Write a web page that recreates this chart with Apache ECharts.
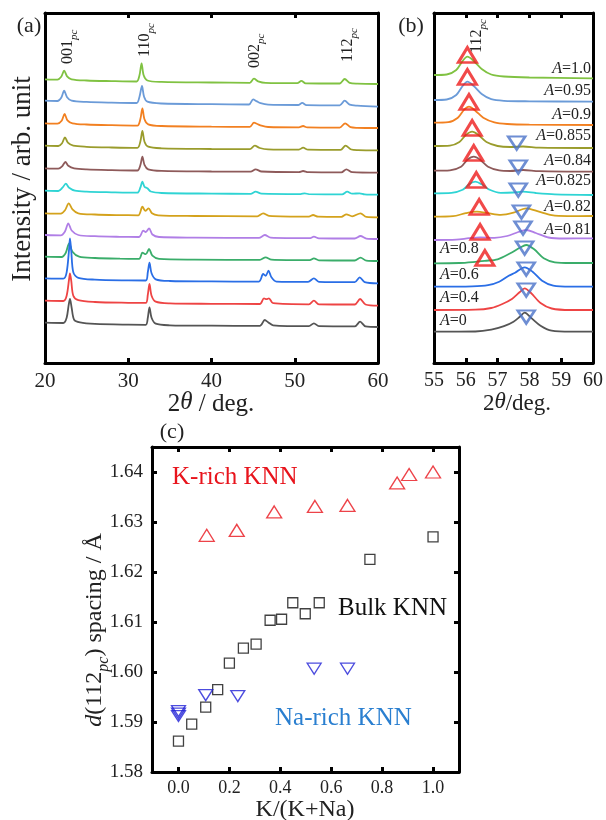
<!DOCTYPE html>
<html>
<head>
<meta charset="utf-8">
<script src="https://cdn.jsdelivr.net/npm/echarts@6/dist/echarts.min.js"></script>
<style>
html, body { margin: 0; background: #fff; }
#main { width: 606px; height: 820px; }
</style>
</head>
<body>
<div id="main"></div>
<script>
const serif = '"Liberation Serif", "Times New Roman", serif';

// one colour per composition, top trace first
const traceColors = ['#80c242', '#6b9bd8', '#f28021', '#9a9c2c', '#8e5a5a', '#2fd4d4',
  '#d4a21c', '#b07ee6', '#3aad6a', '#2a6ee6', '#ee4444', '#555555'];
const compLabels = ['1.0', '0.95', '0.9', '0.855', '0.84', '0.825', '0.82', '0.81', '0.8', '0.6', '0.4', '0'];

// (a) 2theta 20-60, baseline offset of each trace + [2theta, rel. intensity]
const offsetsA = [283.7, 262.3, 239.7, 217.3, 194.7, 172.3, 149.7, 128, 106.3, 84.7, 62.3, 40.3];
const tracesA = [
  [[20,0],[21.5,-0.3],[21.95,2.5],[22.3,8.6],[22.65,3],[23.2,0],[25,-1.2],[28,-1.8],[31,-2.2],[31.35,4],[31.6,16],[31.85,4],[32.3,-1.2],[34,-2.6],[40,-3.2],[44.6,-3.5],[45.1,0.6],[45.6,-2],[46.5,-3.6],[50.3,-3.9],[50.8,-1.5],[51.3,-4],[55.4,-4.2],[56.0,0.3],[56.6,-3.6],[57.5,-4.4],[60,-4.7]],
  [[20,0],[21.5,-0.3],[21.95,3],[22.3,10],[22.65,3.5],[23.2,0],[25,-1.2],[28,-1.9],[31,-2.3],[31.35,4],[31.65,14.7],[31.9,4],[32.3,-1],[34,-2.8],[40,-3.5],[44.5,-3.8],[45.0,1.4],[45.4,-0.4],[45.9,-2.5],[46.8,-4],[50.4,-4.3],[50.9,-2.2],[51.4,-4.4],[55.4,-4.6],[56.0,0],[56.6,-4],[57.5,-5],[60,-6]],
  [[20,0],[21.5,-0.3],[22.0,2.5],[22.35,9.3],[22.7,3],[23.3,0],[25,-1.2],[28,-1.9],[31.1,-2.3],[31.45,4],[31.7,15],[31.95,4],[32.4,-1],[34,-2.7],[40,-3.4],[44.6,-3.6],[45.1,0.6],[45.5,-0.7],[46.0,-2.4],[46.8,-3.7],[50.5,-4],[51.0,-2.7],[51.5,-4.1],[55.4,-4.3],[56.05,0],[56.7,-3.9],[57.5,-4.5],[60,-4.7]],
  [[20,0],[21.6,-0.3],[22.05,2.5],[22.4,8.4],[22.75,3],[23.4,0],[25,-1.1],[28,-1.8],[31.1,-2.2],[31.45,4],[31.7,14.7],[31.95,4],[32.4,-1],[34,-2.6],[40,-3.3],[44.6,-3.5],[45.2,0],[45.8,-2.3],[46.8,-3.6],[50.5,-3.9],[51.0,-2],[51.6,-4],[55.5,-4.2],[56.1,0],[56.8,-3.8],[57.6,-4.4],[60,-4.6]],
  [[20,0],[21.6,-0.3],[22.05,2],[22.45,6.3],[22.8,2.5],[23.5,0],[25,-1.1],[28,-1.8],[31.1,-2.2],[31.45,3],[31.7,11.6],[31.95,3.5],[32.4,-1],[34,-2.6],[40,-3.2],[44.7,-3.4],[45.3,-1],[46.0,-3.2],[50.5,-3.8],[51.0,-2.7],[51.6,-3.9],[55.6,-4.1],[56.2,-1],[56.9,-3.9],[60,-4.4]],
  [[20,0],[21.6,-0.3],[22.1,3],[22.5,7],[22.9,3],[23.6,0],[25,-1],[28,-1.6],[31.1,-2],[31.45,3],[31.7,9],[31.95,4],[32.3,2.4],[32.7,-0.8],[34,-2.3],[40,-2.9],[44.7,-3.1],[45.3,-1],[46.0,-3],[50.7,-3.4],[51.2,-2.6],[51.7,-3.5],[55.7,-3.6],[56.3,-1],[56.9,-3],[57.8,-2.6],[58.4,-3.7],[60,-4]],
  [[20,0],[21.9,-0.3],[22.4,3],[22.85,10],[23.3,4],[24,0],[26,-1.2],[29,-1.8],[31.2,-2],[31.7,6.6],[32.05,2.5],[32.45,5],[32.85,0],[33.6,-2],[38,-2.7],[45.5,-3],[46.2,0],[46.9,-2.5],[51.7,-3.3],[52.2,-1.7],[52.8,-3.4],[55.6,-3.6],[56.2,-1],[56.9,-3],[57.9,0],[58.6,-3.6],[60,-4]],
  [[20,0],[21.9,-0.3],[22.4,3.5],[22.8,11.7],[23.2,4.5],[24,0],[26,-1.2],[29,-1.8],[31.3,-2],[31.8,4.3],[32.1,3],[32.5,6.7],[32.9,0.5],[33.7,-2],[38,-2.6],[45.7,-2.9],[46.4,0],[47.1,-2.6],[51.8,-3.2],[52.3,-1.7],[52.9,-3.3],[57.2,-3.5],[57.9,-1],[58.6,-3.6],[60,-4]],
  [[20,0],[22,-0.3],[22.5,4],[22.9,13.4],[23.3,5],[24.1,0],[26,-1.3],[29,-2],[31.3,-2.2],[31.7,4],[32.1,2.5],[32.5,7.7],[32.9,1],[33.7,-2.2],[38,-2.9],[45.8,-3.2],[46.5,-0.6],[47.2,-2.9],[51.8,-3.5],[52.3,-1.6],[52.9,-3.6],[57.2,-3.8],[57.9,-1],[58.6,-3.9],[60,-4.3]],
  [[20,0],[22.2,-0.3],[22.6,6],[22.9,30],[23.0,40],[23.15,28],[23.4,6],[24,0.5],[26,-1.3],[30,-2.1],[32.1,-2.2],[32.35,6],[32.55,15.6],[32.8,5],[33.3,-1],[35,-2.7],[40,-3.1],[45.7,-3.3],[46.2,4.3],[46.5,2.5],[46.85,7.6],[47.2,1],[47.8,-3.3],[51.6,-3.6],[52.3,0],[52.9,-3.5],[57.2,-3.8],[57.8,1],[58.4,-3.8],[60,-5]],
  [[20,0],[22.2,-0.3],[22.6,5],[22.9,22],[23.0,27.4],[23.15,20],[23.4,5],[24,0.5],[26,-1.3],[30,-2.1],[32.1,-2.2],[32.35,6],[32.55,16.7],[32.8,5],[33.3,-1],[35,-2.7],[40,-3.1],[45.8,-3.3],[46.3,2.4],[46.6,1.5],[46.9,2.4],[47.4,-2.5],[51.7,-3.6],[52.3,0],[52.9,-3.6],[57.2,-3.8],[57.85,1.7],[58.5,-3.8],[60,-5]],
  [[20,0],[22.2,-0.3],[22.6,5],[22.85,18],[23.0,23.7],[23.2,15],[23.5,3],[24.2,0.3],[26,-1.2],[30,-2],[32.1,-2.1],[32.35,5],[32.55,15.4],[32.8,5],[33.3,-1],[35,-2.6],[40,-3],[45.8,-3.2],[46.4,2.7],[46.8,0.5],[47.4,-2.6],[51.7,-3.5],[52.3,-0.6],[52.9,-3.5],[57.2,-3.7],[57.85,1],[58.5,-3.7],[60,-4.3]]
];

// (b) 2theta 55-60 around the 112pc peak
const offsetsB = [288, 263, 240.3, 217, 192.3, 169.7, 146.3, 123, 99.7, 76.3, 53, 31.3];
const tracesB = [
  [[55,0],[55.4,0.5],[55.7,5],[55.9,14],[56.05,18.3],[56.25,14],[56.5,6],[56.8,0.5],[57.2,-1.5],[58,-2.5],[60,-3.3]],
  [[55,0],[55.4,0.5],[55.7,5],[55.9,14],[56.05,18.3],[56.25,14],[56.5,6],[56.8,0.8],[57.2,-0.8],[58,-1.3],[60,-1.7]],
  [[55,0],[55.45,0.5],[55.75,5],[55.95,13],[56.1,16],[56.3,12],[56.55,5],[56.9,0.3],[57.3,-1.3],[58,-2],[60,-2.3]],
  [[55,0],[55.5,0.4],[55.8,4],[56.0,11],[56.2,14.3],[56.4,11],[56.65,4],[57.0,0],[57.4,-1],[57.8,-0.5],[58.3,-1.6],[60,-2]],
  [[55,0],[55.5,0.4],[55.85,4],[56.05,11],[56.25,14],[56.45,11],[56.7,4],[57.05,0.3],[57.4,-0.3],[57.8,0.7],[58.3,-0.5],[60,-1]],
  [[55,0],[55.55,0.4],[55.9,3.5],[56.1,9],[56.3,11.6],[56.5,9],[56.75,3.5],[57.1,0.5],[57.5,0.8],[57.8,1.6],[58.2,0.3],[58.8,-1],[60,-1.7]],
  [[55,0],[55.6,0.5],[56.0,3.5],[56.35,5],[56.7,3.5],[57.1,1.8],[57.5,4],[57.9,8.4],[58.3,5],[58.7,1.5],[59.2,0.6],[60,0.7]],
  [[55,0],[55.7,0.3],[56.1,1.8],[56.45,2.7],[56.9,2.2],[57.3,4],[57.65,8],[57.9,10],[58.2,7],[58.6,2.5],[59.1,1.5],[60,1.7]],
  [[55,0],[55.8,0.3],[56.3,1.5],[56.6,2.5],[57.0,4],[57.4,10],[57.7,15.5],[57.9,18.3],[58.15,14],[58.45,5],[58.8,1],[59.3,0.3],[60,0.3]],
  [[55,0],[56.2,0.3],[56.7,1.5],[57.05,5],[57.35,11],[57.55,14],[57.85,19.4],[58.1,15],[58.4,6],[58.75,1],[59.3,0],[60,0]],
  [[55,0],[56.3,0.3],[56.8,2],[57.15,6],[57.45,11],[57.7,18],[57.85,21.7],[58.05,17],[58.35,7],[58.7,1.5],[59.3,0],[60,0]],
  [[55,0],[56.3,0.2],[56.8,2],[57.2,5.5],[57.5,10],[57.7,15],[57.85,19],[58.05,14],[58.35,6],[58.7,1],[59.3,0],[60,0]]
];
// peak markers in (b): [2theta, stacked intensity]
const kPeaksB = [[56.05,308],[56.05,286],[56.1,261],[56.2,235],[56.25,210],[56.33,183],[56.42,156],[56.45,131],[56.6,105]];
const naPeaksB = [[57.6,220],[57.65,196],[57.65,173],[57.75,151],[57.8,135],[57.85,115],[57.9,94],[57.9,73],[57.9,46]];

// (c) d(112pc) spacing vs K/(K+Na)
const kRichX = [0.111, 0.229, 0.376, 0.536, 0.664, 0.859, 0.906, 1.0];
const kRichD = [1.6274, 1.6284, 1.6321, 1.6332, 1.6334, 1.6379, 1.6396, 1.6401];
const bulkX = [0.0, 0.052, 0.107, 0.154, 0.2, 0.255, 0.305, 0.36, 0.405, 0.449, 0.498, 0.553, 0.752, 1.0];
const bulkD = [1.5862, 1.5896, 1.5930, 1.5965, 1.6018, 1.6048, 1.6056, 1.6104, 1.6106, 1.6139, 1.6117, 1.6139, 1.6226, 1.6271];
const naRichX = [0.0, 0.0, 0.0, 0.107, 0.233, 0.533, 0.664];
const naRichD = [1.5922, 1.5917, 1.5912, 1.5954, 1.5952, 1.6007, 1.6007];

const xTicksC = [0, 0.2, 0.4, 0.6, 0.8, 1.0];
const yTicksC = [1.58, 1.59, 1.60, 1.61, 1.62, 1.63, 1.64];

const chart = echarts.init(document.getElementById('main'));

const boxLine = { show: true, onZero: false, lineStyle: { color: '#000', width: 3 } };
const tickIn = { inside: true, length: 5, lineStyle: { color: '#000', width: 3 } };

function xAx(grid, pos, min, max, interval, labelSize, extra) {
  return Object.assign({
    gridIndex: grid, type: 'value', position: pos, min: min, max: max, interval: interval,
    axisLine: boxLine, axisTick: tickIn, splitLine: { show: false },
    axisLabel: pos === 'bottom'
      ? { fontFamily: serif, fontSize: labelSize, color: '#222', margin: 8 }
      : { show: false }
  }, extra || {});
}
function yAx(grid, pos, min, max, extra) {
  return Object.assign({
    gridIndex: grid, type: 'value', position: pos, min: min, max: max,
    axisLine: boxLine, axisTick: { show: false }, axisLabel: { show: false }, splitLine: { show: false }
  }, extra || {});
}

function sub(main, size) {
  // rich style for 001pc type labels
  return {
    n: { fontFamily: serif, fontSize: size, fill: '#222', lineHeight: size + 4, verticalAlign: 'top' },
    s: { fontFamily: serif, fontSize: Math.round(size * 0.68), fontStyle: 'italic', fill: '#222',
         lineHeight: Math.round(size * 0.68) + 2, padding: [Math.round(size * 0.55), 0, 0, 0], verticalAlign: 'top' },
    i: { fontFamily: serif, fontSize: size, fontStyle: 'italic', fill: '#222', lineHeight: size + 4, verticalAlign: 'top' }
  };
}
function txt(x, y, text, size, o) {
  o = o || {};
  return {
    type: 'text', x: x, y: y, rotation: o.rot || 0, z: 100,
    style: {
      text: text, fill: o.color || '#222', fontFamily: serif, fontSize: size,
      fontStyle: o.italic ? 'italic' : 'normal',
      align: o.align || 'center', textAlign: o.align || 'center',
      verticalAlign: 'middle', textVerticalAlign: 'middle',
      rich: o.rich
    }
  };
}

const series = [];
tracesA.forEach((t, i) => {
  series.push({
    type: 'line', xAxisIndex: 0, yAxisIndex: 0, symbol: 'none', smooth: 0.3,
    lineStyle: { color: traceColors[i], width: 1.8 },
    data: t.map(p => [p[0], offsetsA[i] + p[1]])
  });
});
tracesB.forEach((t, i) => {
  series.push({
    type: 'line', xAxisIndex: 2, yAxisIndex: 2, symbol: 'none', smooth: 0.3,
    lineStyle: { color: traceColors[i], width: 1.8 },
    data: t.map(p => [p[0], offsetsB[i] + p[1]])
  });
});
series.push({
  type: 'scatter', xAxisIndex: 2, yAxisIndex: 2, symbol: 'triangle', symbolSize: [18, 15], z: 5,
  itemStyle: { color: 'rgba(0,0,0,0)', borderColor: '#ee1c1c', borderWidth: 3 },
  data: kPeaksB
});
series.push({
  type: 'scatter', xAxisIndex: 2, yAxisIndex: 2, symbol: 'triangle', symbolRotate: 180, symbolSize: [17, 13], z: 5,
  itemStyle: { color: 'rgba(0,0,0,0)', borderColor: '#4a72c8', borderWidth: 2.5 },
  data: naPeaksB
});
series.push({
  type: 'scatter', xAxisIndex: 4, yAxisIndex: 4, symbol: 'triangle', symbolSize: [15, 12],
  itemStyle: { color: 'rgba(0,0,0,0)', borderColor: '#e8141c', borderWidth: 1.3 },
  data: kRichX.map((x, i) => [x, kRichD[i]])
});
series.push({
  type: 'scatter', xAxisIndex: 4, yAxisIndex: 4, symbol: 'rect', symbolSize: 10,
  itemStyle: { color: 'rgba(0,0,0,0)', borderColor: '#111', borderWidth: 1.3 },
  data: bulkX.map((x, i) => [x, bulkD[i]])
});
series.push({
  type: 'scatter', xAxisIndex: 4, yAxisIndex: 4, symbol: 'triangle', symbolRotate: 180, symbolSize: [14, 11],
  itemStyle: { color: 'rgba(0,0,0,0)', borderColor: '#1f1fd6', borderWidth: 1.3 },
  data: naRichX.map((x, i) => [x, naRichD[i]])
});

// text annotations
const graphics = [
  txt(29, 26, '(a)', 22),
  txt(411, 26, '(b)', 22),
  txt(172, 432, '(c)', 22),
  txt(23, 179, 'Intensity / arb. unit', 27, { rot: Math.PI / 2 }),
  txt(211, 404, '2{i|θ} / deg.', 25, { rich: sub('', 25) }),
  txt(517, 404, '2{i|θ}/deg.', 23, { rich: sub('', 23) }),
  txt(305, 810, 'K/(K+Na)', 24),
  txt(97, 630, '{i|d}{n|(112}{s|pc}{n|) spacing / Å}', 24, { rot: Math.PI / 2, rich: sub('', 24) }),
  txt(70, 64, '{n|001}{s|pc}', 16, { rot: Math.PI / 2, align: 'left', rich: sub('', 16) }),
  txt(147, 57, '{n|110}{s|pc}', 16, { rot: Math.PI / 2, align: 'left', rich: sub('', 16) }),
  txt(257, 68, '{n|002}{s|pc}', 16, { rot: Math.PI / 2, align: 'left', rich: sub('', 16) }),
  txt(350, 62, '{n|112}{s|pc}', 16, { rot: Math.PI / 2, align: 'left', rich: sub('', 16) }),
  txt(479, 53, '{n|112}{s|pc}', 16, { rot: Math.PI / 2, align: 'left', rich: sub('', 16) }),
  txt(172, 477, 'K-rich KNN', 25, { align: 'left', color: '#e8141c' }),
  txt(338, 608, 'Bulk KNN', 25, { align: 'left', color: '#111' }),
  txt(275, 718, 'Na-rich KNN', 25, { align: 'left', color: '#2a7fd0' })
];
const labelY = [71, 93, 117, 138, 163, 183, 209, 232, 251, 277, 300, 323];
compLabels.forEach((c, i) => {
  const left = i >= 8;
  graphics.push(txt(left ? 440 : 591, labelY[i], '{i|A}{n|=' + c + '}', 16,
    { align: left ? 'left' : 'right', rich: sub('', 16) }));
});

chart.setOption({
  backgroundColor: '#fff',
  animation: false,
  grid: [
    { left: 45, top: 13, width: 333, height: 350 },
    { left: 434, top: 13, width: 161, height: 350 },
    { left: 152, top: 447, width: 307, height: 325 }
  ],
  xAxis: [
    xAx(0, 'bottom', 20, 60, 10, 21),
    xAx(0, 'top', 20, 60, 10, 21),
    xAx(1, 'bottom', 55, 60, 1, 20),
    xAx(1, 'top', 55, 60, 1, 20),
    xAx(2, 'bottom', -0.104, 1.102, null, 18, {
      axisTick: Object.assign({ customValues: xTicksC }, tickIn),
      axisLabel: { customValues: xTicksC, fontFamily: serif, fontSize: 18, color: '#222', margin: 7,
        formatter: v => v.toFixed(1) }
    }),
    xAx(2, 'top', -0.104, 1.102, null, 18, {
      axisTick: Object.assign({ customValues: xTicksC }, tickIn)
    })
  ],
  yAxis: [
    yAx(0, 'left', 0, 350),
    yAx(0, 'right', 0, 350),
    yAx(1, 'left', 0, 350),
    yAx(1, 'right', 0, 350),
    yAx(2, 'left', 1.58, 1.6451, {
      axisTick: Object.assign({ customValues: yTicksC }, tickIn),
      axisLabel: { customValues: yTicksC, fontFamily: serif, fontSize: 19, color: '#222', margin: 9,
        formatter: v => v.toFixed(2) }
    }),
    yAx(2, 'right', 1.58, 1.6451, {
      axisTick: Object.assign({ customValues: yTicksC }, tickIn)
    })
  ],
  series: series,
  graphic: graphics
});
</script>
</body>
</html>
